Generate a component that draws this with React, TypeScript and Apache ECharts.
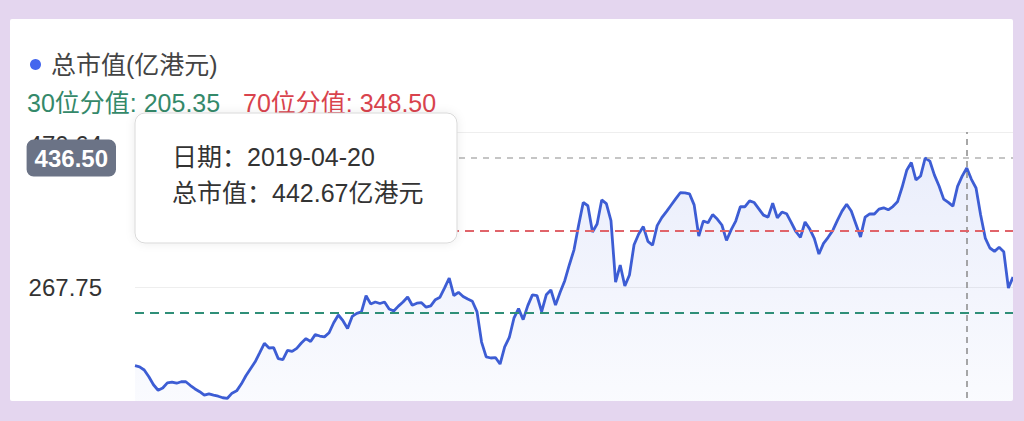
import React, { useEffect, useRef } from "react";
import * as echarts from "echarts";

// ---------------- data ----------------
const SERIES_NAME = "总市值(亿港元)";
const POINTER_DATE = "2019-04-20";
const POINTER_INDEX = 180;
const STEP_DAYS = 7;

const marketCap = [
  164.7, 163.3, 159.1, 150.2, 139.8, 132.6, 135.5, 142.3, 143.2, 141.8,
  143.7, 143.7, 138.8, 134.3, 130.7, 126.1, 127.8, 126.2, 124.8, 122.8,
  122.1, 128.8, 131.8, 140.7, 151.6, 160.8, 169.8, 181.7, 194.0, 187.9,
  188.4, 174.0, 172.7, 184.8, 183.4, 187.5, 194.4, 200.2, 196.4, 205.4,
  203.6, 202.5, 207.9, 221.0, 231.1, 223.6, 213.4, 229.2, 233.3, 235.2,
  256.3, 245.6, 248.1, 246.2, 248.1, 239.0, 236.3, 242.7, 248.1, 254.6,
  243.8, 246.5, 247.2, 241.3, 243.1, 251.2, 254.4, 266.5, 279.5, 256.6,
  260.8, 255.4, 252.0, 249.1, 235.6, 195.7, 176.2, 174.8, 175.4, 166.9,
  189.3, 201.7, 226.9, 239.4, 225.0, 243.4, 257.4, 256.3, 235.4, 257.5,
  263.8, 244.0, 260.8, 276.0, 296.9, 316.4, 348.6, 378.4, 374.1, 339.7,
  350.2, 381.7, 376.8, 354.6, 274.2, 296.5, 269.0, 283.5, 323.1, 337.1,
  346.8, 327.4, 322.4, 348.1, 358.5, 366.5, 374.8, 383.0, 391.1, 391.0,
  389.7, 375.3, 334.5, 354.2, 351.9, 362.5, 356.6, 348.9, 328.7, 342.6,
  354.1, 372.8, 372.8, 380.4, 378.3, 370.1, 361.8, 359.2, 377.4, 358.4,
  365.9, 363.7, 352.4, 340.4, 332.6, 352.8, 343.8, 331.3, 310.9, 324.9,
  332.8, 341.8, 354.9, 367.1, 376.1, 367.2, 350.2, 333.2, 359.2, 363.5,
  363.3, 369.7, 371.4, 368.8, 373.1, 379.2, 398.3, 420.5, 430.7, 407.8,
  413.0, 436.6, 432.6, 414.2, 399.9, 382.8, 378.6, 373.7, 399.4, 412.9,
  423.5, 408.7, 397.3, 362.0, 331.8, 318.8, 314.4, 319.8, 314.0, 266.4,
  280.8,
];

const yTicks = [64.86, 267.75, 470.64];
const P30 = 205.35;
const P70 = 348.5;
const POINTER_VALUE = 436.5;
const TOOLTIP_VALUE = 442.67;

// weekly dates, anchored on the pointer date
const pointerMs = Date.parse(POINTER_DATE + "T00:00:00Z");
const categories = marketCap.map((_, i) =>
  new Date(pointerMs + (i - POINTER_INDEX) * STEP_DAYS * 86400000)
    .toISOString()
    .slice(0, 10)
);

// ---------------- styles ----------------
const FONT = "'Liberation Sans', 'Noto Sans CJK SC', sans-serif";
const LINE_BLUE = "#3d5dd4";
const GREEN = "#34896a";
const RED = "#d9434d";

export default function App() {
  const ref = useRef<HTMLDivElement>(null);

  useEffect(() => {
    if (!ref.current) return;
    const chart = echarts.init(ref.current, undefined, { renderer: "svg" });

    chart.setOption({
      animation: false,
      textStyle: { fontFamily: FONT },
      legend: {
        data: [SERIES_NAME],
        left: 15,
        top: 28,
        icon: "circle",
        itemWidth: 11,
        itemHeight: 11,
        textStyle: {
          fontSize: 25,
          color: "#444",
          fontFamily: FONT,
          padding: [0, 0, 0, 5],
        },
      },
      grid: { left: 125, right: 0, top: 113, bottom: 17 },
      xAxis: {
        type: "category",
        data: categories,
        boundaryGap: false,
        axisLine: { show: false },
        axisTick: { show: false },
        axisLabel: { show: false },
        splitLine: { show: false },
      },
      yAxis: [
        {
          type: "value",
          min: yTicks[0],
          max: yTicks[2],
          interval: yTicks[1] - yTicks[0],
          axisLine: { show: false },
          axisTick: { show: false },
          splitLine: { lineStyle: { color: "#eeeeee", width: 1 } },
          axisLabel: {
            showMinLabel: false,
            fontSize: 24,
            color: "#333",
            fontFamily: FONT,
            margin: 33,
            formatter: (v: number) =>
              Math.abs(v - yTicks[2]) < 0.01
                ? `{top|${v.toFixed(2)}}`
                : v.toFixed(2),
            rich: {
              top: {
                fontSize: 24,
                color: "#333",
                fontFamily: FONT,
                padding: [24, 0, 0, 0],
              },
            },
          },
        },
        {
          type: "value",
          show: false,
          min: -19.85,
          max: 521.33,
          splitLine: { show: false },
        },
      ],
      series: [
        {
          name: SERIES_NAME,
          type: "line",
          data: marketCap,
          yAxisIndex: 0,
          showSymbol: false,
          symbol: "circle",
          itemStyle: { color: "#4466ee" },
          lineStyle: { color: LINE_BLUE, width: 2.8 },
          areaStyle: {
            color: new echarts.graphic.LinearGradient(0, 0, 0, 1, [
              { offset: 0, color: "rgba(80,110,225,0.17)" },
              { offset: 1, color: "rgba(80,110,225,0.02)" },
            ]),
          },
          z: 3,
          markLine: {
            silent: true,
            symbol: "none",
            animation: false,
            data: [
              {
                xAxis: categories[POINTER_INDEX],
                lineStyle: { color: "#8a8a8a", type: [6, 5], width: 1.5 },
                label: { show: false },
              },
              {
                yAxis: POINTER_VALUE,
                lineStyle: { color: "#b3b3b3", type: [6, 6], width: 1.5 },
                label: {
                  show: true,
                  position: "start",
                  distance: 19,
                  formatter: (p: any) => Number(p.value).toFixed(2),
                  backgroundColor: "#6b7386",
                  color: "#fff",
                  fontSize: 24,
                  fontWeight: "bold",
                  fontFamily: FONT,
                  padding: [7, 8, 6, 8],
                  borderRadius: 7,
                },
              },
            ],
          },
        },
        {
          name: "percentiles",
          type: "line",
          data: [],
          yAxisIndex: 1,
          showSymbol: false,
          markLine: {
            silent: true,
            symbol: "none",
            animation: false,
            label: { show: false },
            data: [
              {
                yAxis: P70,
                lineStyle: { color: "#e0646a", type: [9, 6], width: 2 },
              },
              {
                yAxis: P30,
                lineStyle: { color: "#2f8f78", type: [9, 6], width: 2 },
              },
            ],
          },
        },
      ],
      graphic: [
        {
          type: "text",
          x: 17,
          y: 84,
          style: {
            text: `30位分值: ${P30.toFixed(2)}`,
            fill: GREEN,
            fontSize: 25,
            fontFamily: FONT,
            verticalAlign: "middle",
          },
        },
        {
          type: "text",
          x: 233,
          y: 84,
          style: {
            text: `70位分值: ${P70.toFixed(2)}`,
            fill: RED,
            fontSize: 25,
            fontFamily: FONT,
            verticalAlign: "middle",
          },
        },
        {
          type: "group",
          x: 125,
          y: 94,
          z: 100,
          children: [
            {
              type: "rect",
              z: 100,
              shape: { x: 0, y: 0, width: 322, height: 130, r: 10 },
              style: {
                fill: "#ffffff",
                stroke: "#d9d9d9",
                lineWidth: 1,
                shadowBlur: 10,
                shadowColor: "rgba(0,0,0,0.08)",
              },
            },
            {
              type: "text",
              z: 101,
              x: 37,
              y: 44,
              style: {
                text: `日期：${categories[POINTER_INDEX]}`,
                fill: "#333",
                fontSize: 25,
                fontFamily: FONT,
                verticalAlign: "middle",
              },
            },
            {
              type: "text",
              z: 101,
              x: 37,
              y: 80,
              style: {
                text: `总市值：${TOOLTIP_VALUE.toFixed(2)}亿港元`,
                fill: "#333",
                fontSize: 25,
                fontFamily: FONT,
                verticalAlign: "middle",
              },
            },
          ],
        },
      ],
    });

    return () => chart.dispose();
  }, []);

  return (
    <div
      style={{
        position: "fixed",
        left: 0,
        top: 0,
        width: 1024,
        height: 421,
        background: "#e4d6ef",
        overflow: "hidden",
      }}
    >
      <div
        style={{
          position: "absolute",
          left: 10,
          top: 19,
          width: 1003,
          height: 382,
          background: "#ffffff",
          overflow: "hidden",
          borderRadius: 2,
        }}
      >
        <div
          ref={ref}
          style={{ position: "absolute", left: 0, top: 0, width: 1003, height: 440 }}
        />
      </div>
    </div>
  );
}
